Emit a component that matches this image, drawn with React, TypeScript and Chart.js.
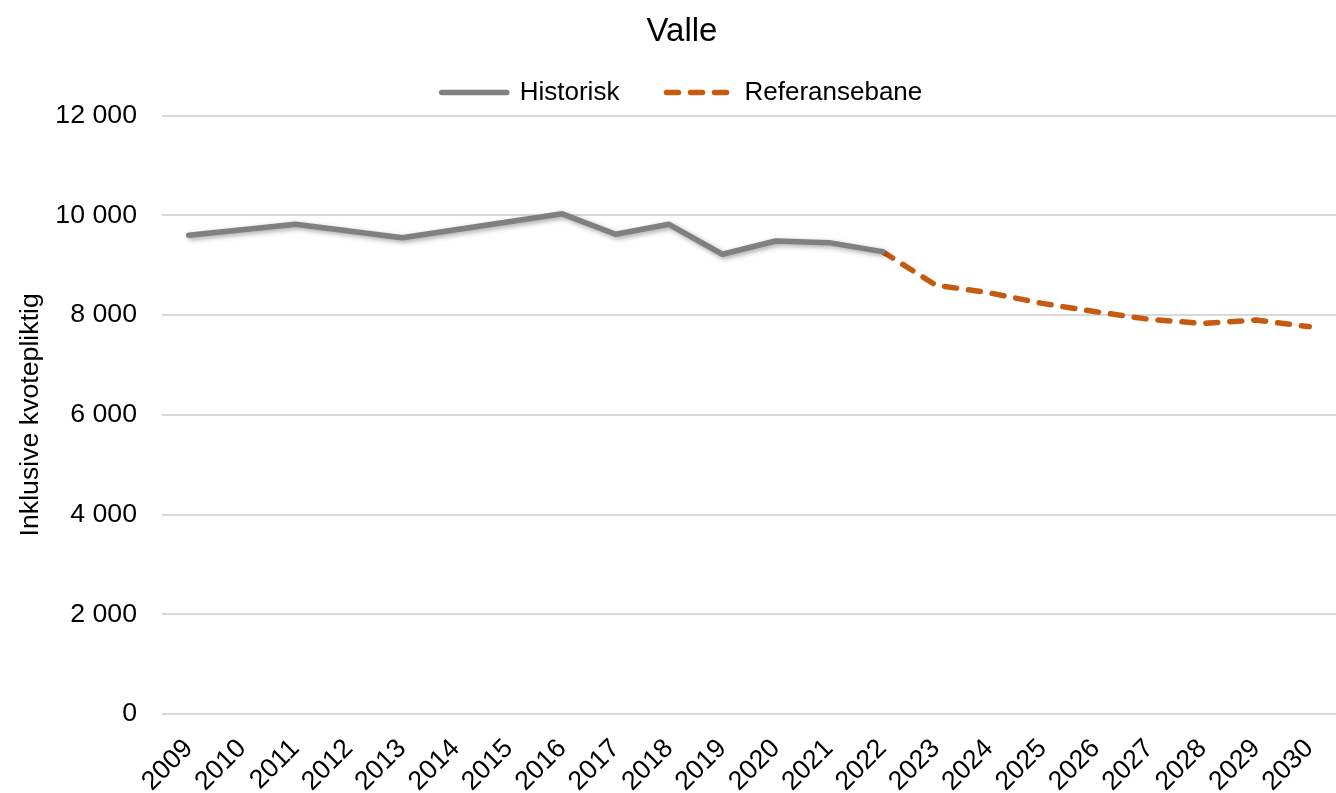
import React, { useEffect, useRef } from "react";
import { Chart, registerables } from "chart.js";

Chart.register(...registerables);

const years = [
  "2009", "2010", "2011", "2012", "2013", "2014", "2015", "2016", "2017", "2018", "2019",
  "2020", "2021", "2022", "2023", "2024", "2025", "2026", "2027", "2028", "2029", "2030",
];

const historisk = [
  9600, 9710, 9820, 9686, 9552, 9711, 9871, 10030, 9620, 9820, 9220,
  9486, 9452, 9272, null, null, null, null, null, null, null, null,
];

const referansebane = [
  null, null, null, null, null, null, null, null, null, null, null,
  null, null, 9272, 8600, 8446, 8234, 8066, 7914, 7834, 7900, 7766,
];

const yTicks = [0, 2000, 4000, 6000, 8000, 10000, 12000];

const FONT = "'Liberation Sans', Arial, sans-serif";
const NB = "\u00A0";

const shadowPlugin = {
  id: "lineShadow",
  beforeDatasetDraw(chart: any, args: any) {
    if (args.index === 0) {
      const ctx = chart.ctx;
      ctx.save();
      ctx.shadowColor = "rgba(0,0,0,0.35)";
      ctx.shadowBlur = 5;
      ctx.shadowOffsetX = 2;
      ctx.shadowOffsetY = 2;
    }
  },
  afterDatasetDraw(chart: any, args: any) {
    if (args.index === 0) chart.ctx.restore();
  },
};

// shift the title and legend blocks horizontally after layout
const shiftPlugin = {
  id: "shiftBlocks",
  afterLayout(chart: any) {
    const t = chart.titleBlock;
    if (t) {
      t.left += 11;
      t.right += 11;
    }
    const l = chart.legend;
    if (l) {
      l.left += 11;
      l.right += 11;
    }
  },
};

function fmt(v: number) {
  return String(v).replace(/\B(?=(\d{3})+(?!\d))/g, " ");
}

export default function App() {
  const ref = useRef<HTMLCanvasElement | null>(null);

  useEffect(() => {
    if (!ref.current) return;
    Chart.defaults.font.family = FONT;
    Chart.defaults.color = "#000";
    const chart = new Chart(ref.current, {
      type: "line",
      data: {
        labels: years,
        datasets: [
          {
            label: "Historisk",
            data: historisk,
            borderColor: "#808080",
            backgroundColor: "#808080",
            borderWidth: 5.5,
            borderCapStyle: "round",
            borderJoinStyle: "round",
            pointRadius: 0,
            tension: 0,
          },
          {
            label: "Referansebane",
            data: referansebane,
            borderColor: "#C55A11",
            backgroundColor: "#C55A11",
            borderWidth: 5.5,
            borderDash: [12, 12],
            borderCapStyle: "round",
            borderJoinStyle: "round",
            pointRadius: 0,
            tension: 0,
          },
        ],
      },
      options: {
        animation: false,
        responsive: true,
        maintainAspectRatio: false,
        layout: { padding: { left: 0, right: -6, top: 0, bottom: 0 } },
        plugins: {
          title: {
            display: true,
            text: "Valle",
            color: "#000",
            font: { size: 33, weight: "normal", family: FONT },
            padding: { top: 12, bottom: 17 },
          },
          legend: {
            display: true,
            position: "top",
            labels: {
              usePointStyle: true,
              pointStyle: "line",
              pointStyleWidth: 65,
              color: "#000",
              font: { size: 26, family: FONT },
              padding: 11,
              generateLabels(chart: any) {
                const items = Chart.defaults.plugins.legend.labels.generateLabels(chart);
                items.forEach((it: any, i: number) => {
                  const ds = chart.data.datasets[i];
                  it.text = it.text + (i === 0 ? NB.repeat(5) : "");
                  it.pointStyle = "line";
                  it.lineDash = ds.borderDash || [];
                  it.lineWidth = 5.5;
                  it.lineCap = "round";
                  it.strokeStyle = ds.borderColor;
                  it.fillStyle = ds.borderColor;
                });
                return items;
              },
            },
          },
          tooltip: { enabled: false },
        },
        scales: {
          x: {
            type: "category",
            offset: true,
            grid: { display: false, drawTicks: false },
            border: { display: false },
            ticks: {
              autoSkip: false,
              maxRotation: 45,
              minRotation: 45,
              padding: 19,
              color: "#000",
              font: { size: 26.7, family: FONT },
            },
            afterFit(scale: any) {
              scale.height = 79;
              scale.paddingLeft = 0;
              scale.paddingRight = 0;
            },
          },
          y: {
            min: 0,
            max: 12000,
            afterBuildTicks(scale: any) {
              scale.ticks = yTicks.map((v) => ({ value: v }));
            },
            grid: { color: "#d9d9d9", lineWidth: 2, drawTicks: false },
            border: { display: false },
            ticks: {
              padding: 25,
              color: "#000",
              font: { size: 26.7, family: FONT },
              callback: (v: any) => fmt(Number(v)),
            },
            title: {
              display: true,
              text: "Inklusive kvotepliktig",
              color: "#000",
              font: { size: 26.7, family: FONT },
              padding: { top: 15, bottom: 0 },
            },
            afterFit(scale: any) {
              scale.width = 162;
            },
          },
        },
      },
      plugins: [shadowPlugin, shiftPlugin],
    } as any);
    return () => chart.destroy();
  }, []);

  return (
    <div style={{ position: "fixed", left: 0, top: 0, width: 1336, height: 793, background: "#fff" }}>
      <canvas ref={ref} />
    </div>
  );
}
